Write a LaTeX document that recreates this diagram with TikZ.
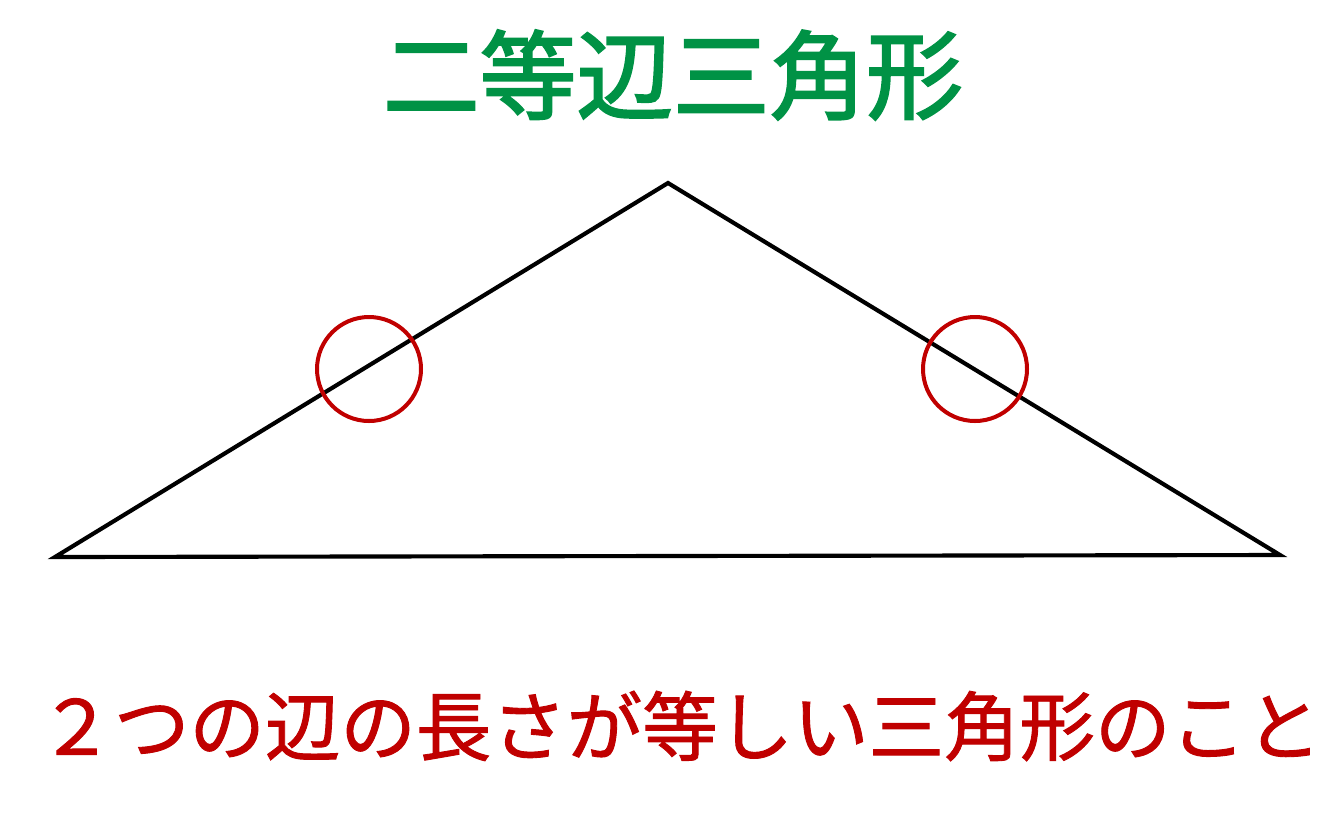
\documentclass[tikz,border=0pt]{standalone}
\usepackage{fontspec}
\newfontfamily\jptitle[FakeBold=2.2]{Noto Sans CJK JP}
\newfontfamily\jpcaption[FakeBold=1.2]{Noto Sans CJK JP}
\definecolor{titlegreen}{RGB}{0,146,69}
\definecolor{markred}{RGB}{192,0,0}
\begin{document}
\begin{tikzpicture}[x=0.75pt,y=-0.75pt,
  edge/.style={draw=black,line width=3.1pt},
  tick/.style={circle,draw=markred,line width=3pt,minimum size=78pt,inner sep=0pt},
  title/.style={font=\jptitle\fontsize{72.5}{80}\selectfont,text=titlegreen,inner sep=0pt},
  caption/.style={font=\jpcaption\fontsize{56.6}{64}\selectfont,text=markred,inner sep=0pt}]
\useasboundingbox (0,0) rectangle (1333,833);
\coordinate (A) at (668,183);
\coordinate (B) at (55,557);
\coordinate (C) at (1280,555);
\draw[edge] (A) -- (B) -- (C) -- cycle;
\node[tick] (m1) at (369,369) {};
\node[tick] (m2) at (975,369) {};
\node[title] (t) at (673,75) {二等辺三角形};
\node[caption] (c) at (680,726) {２つの辺の長さが等しい三角形のこと};
\end{tikzpicture}
\end{document}
